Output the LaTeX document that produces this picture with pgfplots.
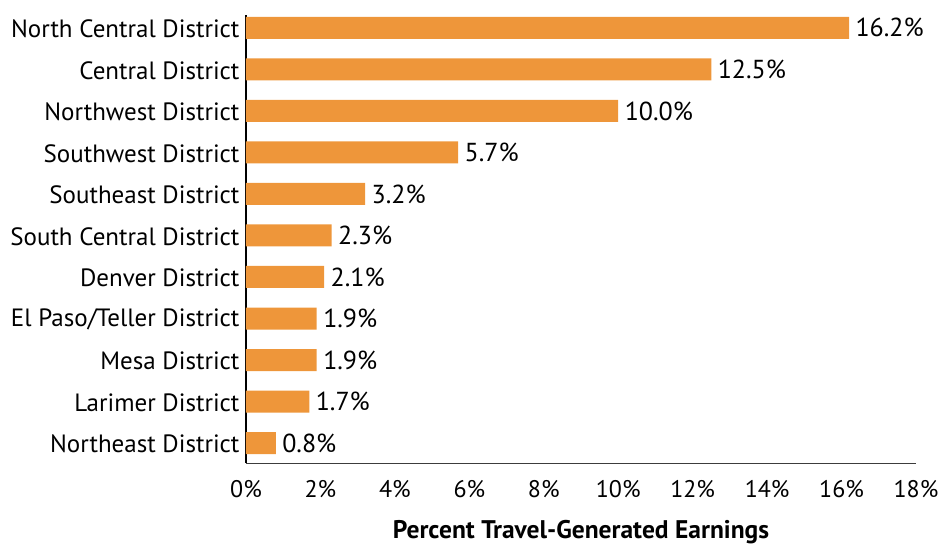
\documentclass[border=0pt]{standalone}
\usepackage{pgfplots}
\pgfplotsset{compat=1.18}
\usepackage{fontspec}
\setmainfont{PT Sans}
\definecolor{barorange}{RGB}{238,150,58}
\definecolor{axisgray}{RGB}{60,60,60}
\begin{document}
\begin{tikzpicture}
\begin{axis}[
  scale only axis,
  width=670pt, height=448pt,
  xbar, bar width=22pt,
  xmin=0, xmax=18,
  ymin=-0.48, ymax=10.31,
  xtick={0,2,...,18},
  xticklabel={\pgfmathprintnumber{\tick}\%},
  /pgf/number format/assume math mode=true,
  ytick={0,...,10},
  yticklabels={Northeast District, Larimer District, Mesa District, El Paso/Teller District, Denver District, South Central District, Southeast District, Southwest District, Northwest District, Central District, North Central District},
  major tick length=0pt,
  axis x line*=bottom,
  axis y line*=left,
  x axis line style={axisgray, line width=0.8pt, -},
  y axis line style={black, line width=1.2pt, -},
  yticklabel style={font=\fontsize{25}{28}\selectfont, text=black, xshift=-3pt, yshift=-1pt},
  xticklabel style={font=\fontsize{24}{28}\selectfont, text=black, yshift=-14pt},
  xlabel={\textbf{Percent Travel-Generated Earnings}},
  xlabel style={font=\fontsize{25.5}{28}\selectfont, yshift=-15pt},
  nodes near coords={\pgfmathprintnumber[fixed,fixed zerofill,precision=1]{\pgfplotspointmeta}\%},
  nodes near coords style={font=\fontsize{26}{28}\selectfont, text=black, anchor=west, xshift=3pt},
]
\addplot[draw=none, fill=barorange] coordinates {(0.8,0) (1.7,1) (1.9,2) (1.9,3) (2.1,4) (2.3,5) (3.2,6) (5.7,7) (10.0,8) (12.5,9) (16.2,10)};
\end{axis}
\path (current axis.south west) ++(-246pt,-81pt) rectangle ++(943pt,544pt);
\end{tikzpicture}
\end{document}
